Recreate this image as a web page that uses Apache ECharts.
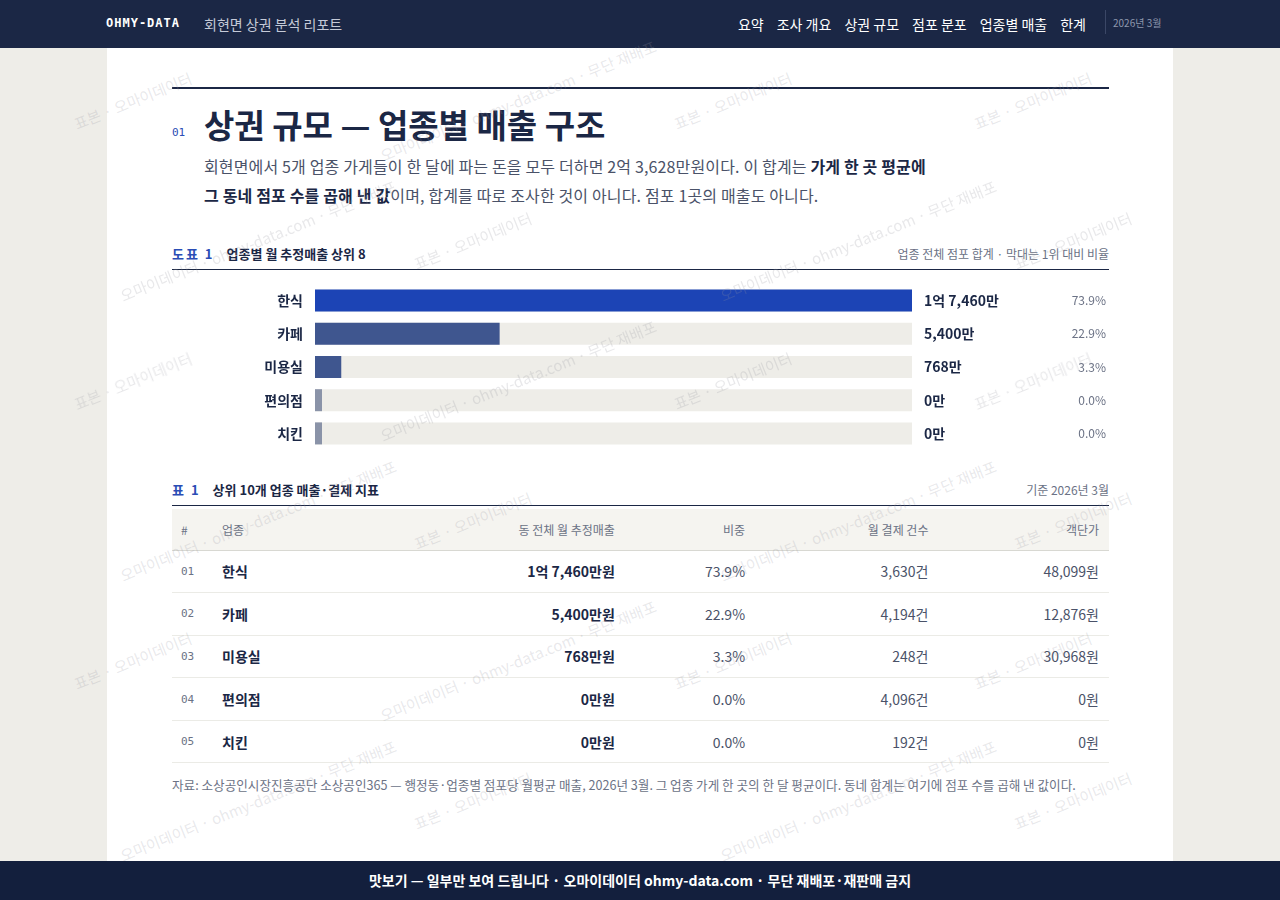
<!DOCTYPE html>
<html><head><meta charset="utf-8">
<script src="https://cdn.jsdelivr.net/npm/echarts@6/dist/echarts.min.js"></script>
<style>
*{margin:0;padding:0;box-sizing:border-box}
body{width:1280px;height:900px;background:#eeede8;font-family:"Noto Sans CJK KR","Noto Sans",sans-serif;color:#1b2745;position:relative;overflow:hidden}
.nav{position:absolute;left:0;top:0;width:1280px;height:48px;background:#1b2745;color:#fff}
.nav .brand{position:absolute;left:106px;top:16px;font:bold 12px "DejaVu Sans Mono",monospace;letter-spacing:1px}
.nav .sub{position:absolute;left:204px;top:14px;font-size:14px;color:#c5cad8}
.nav .menu{position:absolute;right:194px;top:14px;font-size:14px}
.nav .menu span{margin-left:13px}
.nav .date{position:absolute;left:1105px;top:10px;height:24px;border-left:1px solid #3b4766;padding-left:7px;font-size:10px;color:#8e97ad;line-height:26px}
.page{position:absolute;left:107px;top:48px;width:1066px;height:813px;background:#fff}
.rule{position:absolute;left:172px;top:87px;width:937px;height:2px;background:#1b2745}
.num{position:absolute;left:172px;top:126px;font:11px "DejaVu Sans Mono",monospace;color:#2a4db5}
h1{position:absolute;left:204px;top:100px;font-size:33px;font-weight:bold;color:#1b2745}
.lead{position:absolute;left:204px;top:152px;width:800px;font-size:16px;line-height:29px;color:#4a5268;letter-spacing:0.15px}
.lead b{color:#1b2745}
.cap{position:absolute;left:172px;width:937px;height:26px;border-bottom:1px solid #1b2745;font-size:13px;font-weight:bold}
.cap .k{color:#2a4db5;margin-right:12px;letter-spacing:2px}
.cap .r{position:absolute;right:0;top:1px;font-weight:normal;font-size:12px;color:#6b7285}
#chart{position:absolute;left:172px;top:280px;width:937px;height:174px}
table{position:absolute;left:172px;top:509px;width:937px;border-collapse:collapse;font-size:14px}
th{height:41px;background:#f5f4f0;font-weight:normal;font-size:12px;color:#6b7285;border-bottom:1px solid #d8d8d2}
td{height:42.6px;border-bottom:1px solid #ebebe6;color:#4a5268}
th,td{text-align:right;padding-right:10px}
.c0{text-align:left;padding-left:9px;width:50px;font:11px "DejaVu Sans Mono",monospace;color:#6b7285}
.c1{text-align:left;font-weight:bold;color:#1b2745}
.bold{font-weight:bold;color:#1b2745}
.src{position:absolute;left:172px;top:775px;width:937px;font-size:12.6px;line-height:19px;color:#6b7285}
.foot{position:absolute;left:0;top:861px;width:1280px;height:39px;background:#131f3d;color:#fff;font-size:14px;font-weight:bold;text-align:center;line-height:39px}
.wm{position:absolute;font-size:15px;color:rgba(150,150,160,0.22);transform:rotate(-22deg);white-space:nowrap;pointer-events:none}
</style></head><body>
<div class="nav"><div class="brand">OHMY-DATA</div><div class="sub">회현면 상권 분석 리포트</div>
<div class="menu"><span>요약</span><span>조사 개요</span><span>상권 규모</span><span>점포 분포</span><span>업종별 매출</span><span>한계</span></div>
<div class="date">2026년 3월</div></div>
<div class="page"></div>
<div class="rule"></div>
<div class="num">01</div>
<h1>상권 규모 — 업종별 매출 구조</h1>
<div class="lead">회현면에서 5개 업종 가게들이 한 달에 파는 돈을 모두 더하면 2억 3,628만원이다. 이 합계는 <b>가게 한 곳 평균에<br>그 동네 점포 수를 곱해 낸 값</b>이며, 합계를 따로 조사한 것이 아니다. 점포 1곳의 매출도 아니다.</div>
<div class="cap" style="top:244px"><span class="k">도표 1</span>업종별 월 추정매출 상위 8<span class="r">업종 전체 점포 합계 · 막대는 1위 대비 비율</span></div>
<div id="chart"></div>
<div class="cap" style="top:480px"><span class="k">표 1</span>상위 10개 업종 매출·결제 지표<span class="r">기준 2026년 3월</span></div>
<table id="tbl"><thead><tr><th class="c0" style="font-family:inherit;font-size:12px">#</th><th class="c1" style="font-weight:normal;color:#6b7285">업종</th><th>동 전체 월 추정매출</th><th>비중</th><th>월 결제 건수</th><th>객단가</th></tr></thead><tbody></tbody></table>
<div class="src">자료: 소상공인시장진흥공단 소상공인365 — 행정동·업종별 점포당 월평균 매출, 2026년 3월. 그 업종 가게 한 곳의 한 달 평균이다. 동네 합계는 여기에 점포 수를 곱해 낸 값이다.</div>
<div class="foot">맛보기 — 일부만 보여 드립니다 · 오마이데이터 ohmy-data.com · 무단 재배포·재판매 금지</div>
<div id="wms"></div>
<script>
// 업종별 데이터 (단위: 만원)
const categories = ['한식', '카페', '미용실', '편의점', '치킨'];
const salesMan = [17460, 5400, 768, 0, 0];
const salesLabels = ['1억 7,460만', '5,400만', '768만', '0만', '0만'];
const shares = ['73.9%', '22.9%', '3.3%', '0.0%', '0.0%'];
const payCounts = ['3,630건', '4,194건', '248건', '4,096건', '192건'];
const unitPrices = ['48,099원', '12,876원', '30,968원', '0원', '0원'];
const barColors = ['#1c44b5', '#3f568f', '#3f568f', '#8a93a8', '#8a93a8'];

const chart = echarts.init(document.getElementById('chart'));
chart.setOption({
  animation: false,
  grid: {left: 143, right: 194, top: 4, bottom: 4},
  xAxis: {type: 'value', min: 0, max: salesMan[0], show: false},
  yAxis: [{
    type: 'category', data: categories, inverse: true,
    axisLine: {show: false}, axisTick: {show: false},
    axisLabel: {margin: 12, fontSize: 14, fontWeight: 'bold', color: '#1b2745', fontFamily: 'Noto Sans CJK KR'}
  }, {
    type: 'category', data: categories, inverse: true, position: 'right',
    axisLine: {show: false}, axisTick: {show: false},
    axisLabel: {
      margin: 12, align: 'left', fontFamily: 'Noto Sans CJK KR',
      formatter: (v, i) => '{v|' + salesLabels[i] + '}{p|' + shares[i] + '}',
      rich: {
        v: {width: 140, fontSize: 14, fontWeight: 'bold', color: '#1b2745'},
        p: {width: 42, align: 'right', fontSize: 12, color: '#6b7285'}
      }
    }
  }],
  series: [{
    type: 'bar', data: salesMan.map((v, i) => ({value: v, itemStyle: {color: barColors[i]}})),
    barWidth: 22, barMinHeight: 7,
    showBackground: true, backgroundStyle: {color: '#eeede8'}
  }]
});

const tb = document.querySelector('#tbl tbody');
categories.forEach((c, i) => {
  const tr = document.createElement('tr');
  tr.innerHTML = `<td class="c0">0${i + 1}</td><td class="c1">${c}</td><td class="bold">${salesLabels[i]}원</td><td>${shares[i]}</td><td>${payCounts[i]}</td><td>${unitPrices[i]}</td>`;
  tb.appendChild(tr);
});

// 워터마크
const wm = document.getElementById('wms');
const texts = ['표본 · 오마이데이터', '오마이데이터 · ohmy-data.com · 무단 재배포'];
for (let r = 0; r < 6; r++) {
  for (let c = 0; c < 4; c++) {
    const s = document.createElement('div');
    s.className = 'wm';
    s.textContent = c === 3 ? texts[0] : texts[(r + c) % 2];
    s.style.left = (70 + c * 300 + (r % 2) * 40) + 'px';
    s.style.top = (90 + r * 140) + 'px';
    wm.appendChild(s);
  }
}
</script>
</body></html>
